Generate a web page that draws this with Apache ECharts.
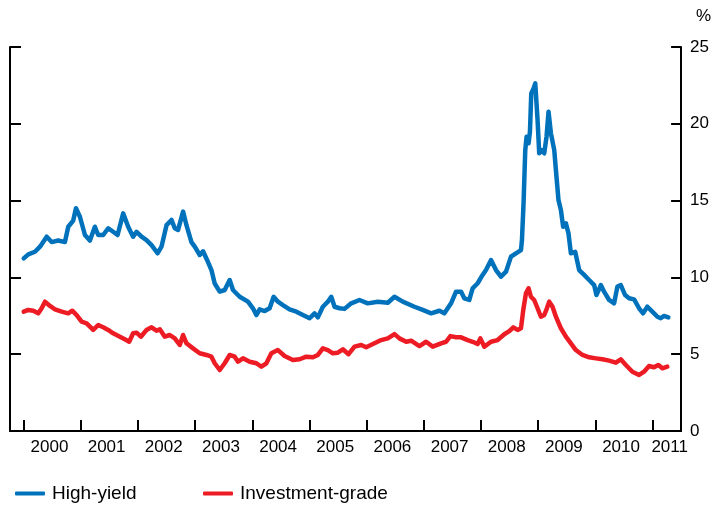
<!DOCTYPE html>
<html>
<head>
<meta charset="utf-8">
<script src="https://cdn.jsdelivr.net/npm/echarts@6/dist/echarts.min.js"></script>
<style>html,body{margin:0;padding:0;background:#fff}#c{width:712px;height:505px}</style>
</head>
<body>
<div id="c"></div>
<script>
var yearTicks = [2000,2001,2002,2003,2004,2005,2006,2007,2008,2009,2010,2011];
var yearLabelPos = [2000.45,2001.45,2002.45,2003.45,2004.45,2005.45,2006.45,2007.45,2008.45,2009.45,2010.45,2011.3];

var hyDates = [2000.00,2000.080,2000.197,2000.285,2000.402,2000.489,2000.604,2000.721,2000.779,2000.866,2000.914,2000.983,
2001.071,2001.158,2001.245,2001.303,2001.390,2001.478,2001.565,2001.642,2001.740,2001.827,2001.914,2001.974,
2002.061,2002.148,2002.236,2002.341,2002.410,2002.498,2002.585,2002.643,2002.700,2002.788,2002.847,2002.934,2002.992,
2003.079,2003.137,2003.224,2003.284,2003.341,2003.429,2003.516,2003.603,2003.661,2003.778,2003.923,
2004.010,2004.070,2004.127,2004.215,2004.302,2004.372,2004.447,2004.534,2004.651,2004.769,2004.884,
2005.001,2005.088,2005.146,2005.233,2005.321,2005.380,2005.438,2005.525,2005.612,2005.729,2005.874,
2006.019,2006.194,2006.369,2006.486,2006.631,2006.835,2006.980,
2007.127,2007.272,2007.359,2007.476,2007.563,2007.651,2007.708,2007.795,2007.853,2007.941,
2008.028,2008.087,2008.175,2008.262,2008.349,2008.437,2008.524,2008.611,2008.699,2008.716,2008.744,2008.774,2008.797,2008.832,2008.856,2008.879,2008.919,2008.949,2008.989,
2009.018,2009.066,2009.106,2009.146,2009.181,2009.223,2009.281,2009.310,2009.355,2009.397,2009.437,2009.485,2009.530,2009.572,2009.647,2009.717,2009.804,2009.891,2009.979,
2010.019,2010.096,2010.153,2010.241,2010.328,2010.386,2010.445,2010.521,2010.590,2010.678,2010.765,2010.835,2010.910,2010.997,
2011.085,2011.144,2011.202,2011.277];
var hyValues = [11.24,11.5,11.67,12.0,12.65,12.3,12.4,12.3,13.3,13.7,14.5,13.95,
12.76,12.4,13.3,12.76,12.76,13.2,12.97,12.76,14.17,13.3,12.65,12.97,
12.65,12.43,12.1,11.57,12.0,13.4,13.74,13.2,13.09,14.28,13.4,12.3,12.0,
11.46,11.7,11.0,10.48,9.6,9.07,9.18,9.83,9.18,8.74,8.42,
7.99,7.55,7.92,7.81,7.99,8.74,8.42,8.2,7.92,7.77,7.55,
7.34,7.66,7.4,8.09,8.42,8.74,8.09,7.99,7.95,8.31,8.53,
8.31,8.42,8.35,8.74,8.42,8.09,7.88,
7.66,7.83,7.66,8.31,9.07,9.07,8.64,8.53,9.29,9.62,
10.16,10.48,11.13,10.48,10.05,10.37,11.35,11.57,11.78,12.43,14.82,18.3,19.16,18.73,19.49,21.98,22.3,22.63,20.25,
18.08,18.29,18.08,19.16,20.79,19.38,18.29,16.99,15.04,14.39,13.3,13.52,12.87,11.57,11.67,10.48,10.16,9.83,9.5,
8.85,9.5,9.07,8.53,8.31,9.4,9.5,8.85,8.64,8.57,7.99,7.66,8.09,7.77,
7.44,7.34,7.49,7.4];

var igDates = [2000.00,2000.080,2000.168,2000.255,2000.314,2000.372,2000.459,2000.547,2000.664,2000.779,2000.849,2000.926,
2001.013,2001.100,2001.216,2001.303,2001.390,2001.478,2001.565,2001.682,2001.769,2001.845,2001.914,2001.974,
2002.049,2002.148,2002.236,2002.323,2002.381,2002.468,2002.555,2002.643,2002.730,2002.788,2002.847,2002.962,
2003.079,2003.197,2003.284,2003.341,2003.429,2003.516,2003.603,2003.691,2003.749,2003.836,2003.953,
2004.070,2004.157,2004.245,2004.332,2004.447,2004.564,2004.709,2004.826,2004.943,
2005.059,2005.146,2005.233,2005.321,2005.408,2005.495,2005.583,2005.682,2005.787,2005.904,2005.991,
2006.136,2006.253,2006.369,2006.486,2006.573,2006.690,2006.777,2006.922,
2007.039,2007.155,2007.301,2007.389,2007.464,2007.563,2007.651,2007.766,2007.853,2007.941,2007.988,
2008.058,2008.175,2008.290,2008.320,2008.408,2008.495,2008.565,2008.640,2008.699,2008.739,2008.786,2008.832,2008.873,2008.930,2008.989,
2009.048,2009.106,2009.146,2009.193,2009.251,2009.310,2009.397,2009.485,2009.572,2009.659,2009.775,2009.892,
2010.009,2010.124,2010.241,2010.358,2010.445,2010.533,2010.648,2010.765,2010.852,2010.939,
2011.026,2011.102,2011.172,2011.259];
var igValues = [7.77,7.88,7.83,7.66,7.99,8.42,8.14,7.92,7.77,7.66,7.83,7.55,
7.12,7.01,6.58,6.9,6.75,6.58,6.36,6.14,5.97,5.81,6.36,6.4,
6.14,6.58,6.75,6.53,6.62,6.14,6.25,6.03,5.6,6.25,5.71,5.38,
5.06,4.95,4.84,4.41,3.97,4.41,4.95,4.84,4.51,4.73,4.51,
4.41,4.19,4.41,5.06,5.27,4.88,4.62,4.67,4.84,
4.8,4.95,5.38,5.27,5.06,5.1,5.32,5.0,5.49,5.6,5.45,
5.71,5.92,6.03,6.31,6.03,5.81,5.88,5.53,
5.81,5.49,5.71,5.81,6.18,6.1,6.1,5.92,5.81,5.66,6.03,
5.49,5.81,5.92,6.0,6.3,6.5,6.75,6.58,6.69,7.88,8.96,9.29,8.74,8.53,7.99,
7.44,7.55,7.92,8.42,8.09,7.44,6.69,6.14,5.71,5.27,4.95,4.8,
4.73,4.67,4.58,4.45,4.67,4.3,3.86,3.65,3.86,4.23,
4.15,4.3,4.08,4.19];

var yTicksMin = 0, yTicksMax = 25, yTickStep = 5;

function pairs(d, v) { return d.map(function (x, i) { return [x, v[i]]; }); }

var FONT = 'Liberation Sans, Arial, Helvetica, sans-serif';
var BLUE = '#0072BC', RED = '#ED1C24';

var chart = echarts.init(document.getElementById('c'), null, {renderer: 'canvas'});
var axisLineStyle = {color: '#000', width: 2};
var legendText = {fontFamily: FONT, fontSize: 19, color: '#000', padding: [0, 0, 0, 2]};
chart.setOption({
  animation: false,
  backgroundColor: '#fff',
  grid: {left: 10, right: 30, top: 47, bottom: 74, containLabel: false},
  graphic: [{type: 'text', left: 696, top: 8, style: {text: '%', font: '17px ' + FONT, fill: '#000'}}],
  legend: [
    {data: ['High-yield'], left: 15, top: 484, padding: 0, itemWidth: 30, itemHeight: 4, icon: 'roundRect',
     textStyle: legendText},
    {data: ['Investment-grade'], left: 203, top: 484, padding: 0, itemWidth: 30, itemHeight: 4, icon: 'roundRect',
     textStyle: legendText}
  ],
  xAxis: {
    type: 'value', min: 1999.76, max: 2011.5,
    axisLine: {show: true, lineStyle: axisLineStyle},
    axisTick: {show: true, inside: true, length: 11, lineStyle: axisLineStyle, customValues: yearTicks},
    axisLabel: {show: true, customValues: yearLabelPos, formatter: function (v) { return String(Math.floor(v + 1e-6)); },
      color: '#000', fontFamily: FONT, fontSize: 17, margin: 8},
    splitLine: {show: false}
  },
  yAxis: [
    {type: 'value', position: 'left', min: yTicksMin, max: yTicksMax, interval: yTickStep,
     axisLine: {show: true, onZero: false, lineStyle: axisLineStyle},
     axisTick: {show: true, inside: true, length: 11, lineStyle: axisLineStyle},
     axisLabel: {show: false}, splitLine: {show: false}},
    {type: 'value', position: 'right', min: yTicksMin, max: yTicksMax, interval: yTickStep,
     axisLine: {show: true, onZero: false, lineStyle: axisLineStyle},
     axisTick: {show: true, inside: true, length: 10, lineStyle: axisLineStyle},
     axisLabel: {show: true, color: '#000', fontFamily: FONT, fontSize: 17, margin: 9},
     splitLine: {show: false}}
  ],
  series: [
    {name: 'High-yield', type: 'line', yAxisIndex: 0, data: pairs(hyDates, hyValues), showSymbol: false, symbol: 'none',
     itemStyle: {color: BLUE}, lineStyle: {color: BLUE, width: 4.5, cap: 'round', join: 'round'}},
    {name: 'Investment-grade', type: 'line', yAxisIndex: 0, data: pairs(igDates, igValues), showSymbol: false, symbol: 'none',
     itemStyle: {color: RED}, lineStyle: {color: RED, width: 4.5, cap: 'round', join: 'round'}}
  ]
});
</script>
</body>
</html>
